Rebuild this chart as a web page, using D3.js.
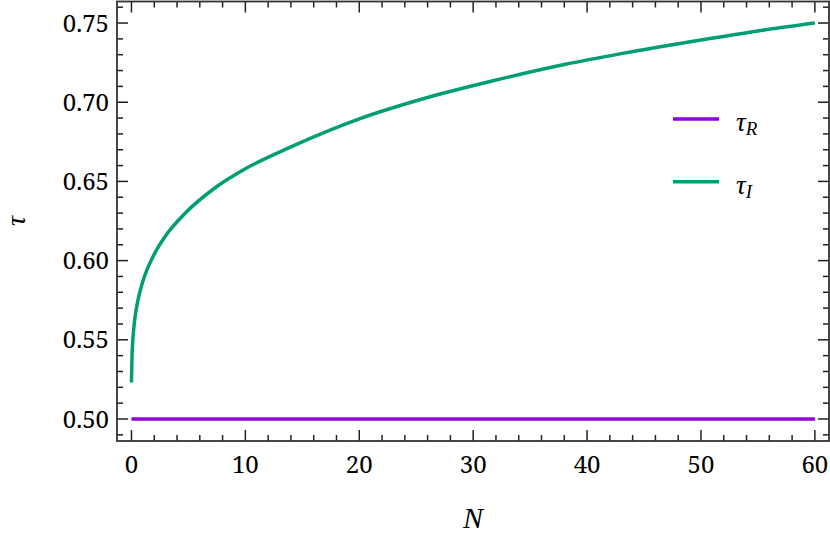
<!DOCTYPE html>
<html><head><meta charset="utf-8">
<script src="https://cdn.jsdelivr.net/npm/d3@7"></script>
<style>body{margin:0;background:#fff}svg{display:block}
text{font-family:"Liberation Serif","DejaVu Serif",serif}
text.num{font-family:"Noto Serif","DejaVu Serif",serif}</style>
</head><body>
<svg id="c" width="830" height="542"></svg>
<script>
// Data
const nValues   = [0, 0.05, 0.1, 0.25, 0.5, 1, 2, 3, 4.6, 7.5, 10, 14, 20, 26, 32, 38, 43, 50, 55, 60];
const tauI      = [0.523, 0.540, 0.5477, 0.5606, 0.5726, 0.5869, 0.604, 0.6157, 0.6291, 0.6468, 0.658, 0.6718, 0.6895, 0.703, 0.714, 0.7238, 0.7307, 0.7393, 0.745, 0.750];
const tauRN     = [0, 60];
const tauR      = [0.5, 0.5];
const xTicks    = [0, 10, 20, 30, 40, 50, 60];
const yTicks    = [0.50, 0.55, 0.60, 0.65, 0.70, 0.75];
const legendLabels = [{base:"τ", sub:"R"}, {base:"τ", sub:"I"}];

const colR = "#9400d3", colI = "#009e73";
const svg = d3.select("#c");
const L = 117, R = 829, T = 1.5, B = 441;
const x = d3.scaleLinear().domain([-1.27, 61.24]).range([L, R]);
const y = d3.scaleLinear().domain([0.4861, 0.7636]).range([B, T]);

const line = d3.line().x(d => x(d[0])).y(d => y(d[1]));

// curves
svg.append("path").datum(tauRN.map((n,i)=>[n,tauR[i]]))
  .attr("d", line).attr("fill","none").attr("stroke",colR).attr("stroke-width",3.5);
svg.append("path").datum(nValues.map((n,i)=>[n,tauI[i]]))
  .attr("d", line.curve(d3.curveMonotoneX)).attr("fill","none").attr("stroke",colI).attr("stroke-width",3.5);

// ticks (inward, all four sides)
const xMinor = d3.range(0, 61, 2).filter(v => v % 10 !== 0);
const yMinor = d3.range(49, 77).map(v => v/100).filter(v => Math.round(v*100) % 5 !== 0 && v < 0.7636);
const tk = svg.append("g").attr("stroke","#222").attr("stroke-width",1.5);
const MJ = 11, MN = 6;
xTicks.forEach(v => {
  tk.append("line").attr("x1",x(v)).attr("x2",x(v)).attr("y1",B).attr("y2",B-MJ);
  tk.append("line").attr("x1",x(v)).attr("x2",x(v)).attr("y1",T).attr("y2",T+MJ);
});
xMinor.forEach(v => {
  tk.append("line").attr("x1",x(v)).attr("x2",x(v)).attr("y1",B).attr("y2",B-MN);
  tk.append("line").attr("x1",x(v)).attr("x2",x(v)).attr("y1",T).attr("y2",T+MN);
});
yTicks.forEach(v => {
  tk.append("line").attr("y1",y(v)).attr("y2",y(v)).attr("x1",L).attr("x2",L+MJ);
  tk.append("line").attr("y1",y(v)).attr("y2",y(v)).attr("x1",R).attr("x2",R-MJ);
});
yMinor.forEach(v => {
  tk.append("line").attr("y1",y(v)).attr("y2",y(v)).attr("x1",L).attr("x2",L+MN);
  tk.append("line").attr("y1",y(v)).attr("y2",y(v)).attr("x1",R).attr("x2",R-MN);
});

// frame
svg.append("rect").attr("x",L).attr("y",T).attr("width",R-L).attr("height",B-T)
  .attr("fill","none").attr("stroke","#333").attr("stroke-width",1.8);

// tick labels
svg.append("g").selectAll("text").data(xTicks).join("text").attr("class","num")
  .attr("x", d => x(d)).attr("y", 472.5).attr("text-anchor","middle")
  .attr("font-size",24).attr("fill","#000").text(d => d);
svg.append("g").selectAll("text").data(yTicks).join("text").attr("class","num")
  .attr("x", 109).attr("y", d => y(d)).attr("dy","0.36em").attr("text-anchor","end")
  .attr("font-size",24).attr("fill","#000").text(d => d3.format(".2f")(d));

// axis labels
svg.append("text").attr("x",473).attr("y",528).attr("text-anchor","middle")
  .attr("font-style","italic").attr("font-size",30).text("N");
svg.append("text").attr("transform","translate(25,221) rotate(-90)").attr("text-anchor","middle")
  .attr("font-style","italic").attr("font-size",28).text("τ");

// legend
const legY = [119, 181.7];
const cols = [colR, colI];
legendLabels.forEach((lab,i) => {
  svg.append("line").attr("x1",673).attr("x2",719).attr("y1",legY[i]).attr("y2",legY[i])
    .attr("stroke",cols[i]).attr("stroke-width",3.5);
  const t = svg.append("text").attr("x",736).attr("y",legY[i]+12)
    .attr("font-style","italic").attr("font-size",27);
  t.append("tspan").text(lab.base);
  t.append("tspan").attr("dy",4).attr("font-size",19).text(lab.sub);
});
</script>
</body></html>
